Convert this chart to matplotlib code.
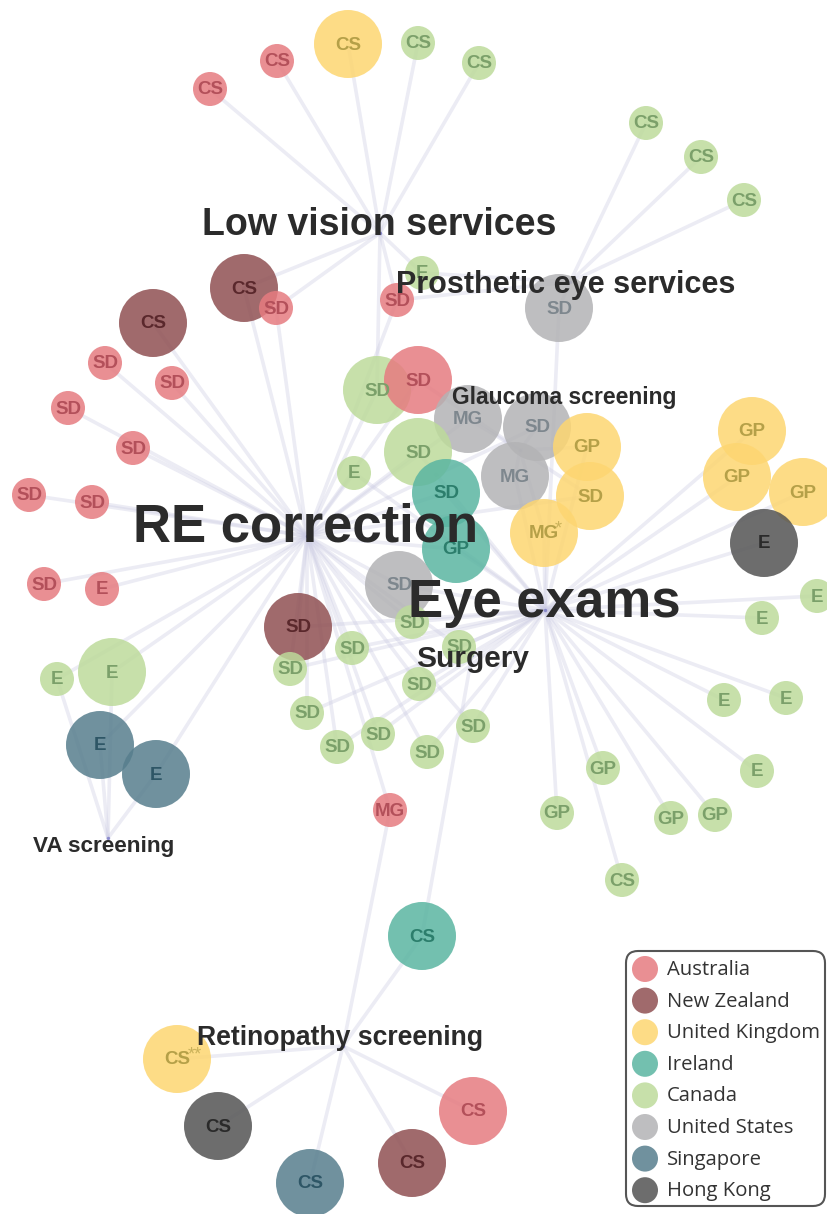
import matplotlib
matplotlib.use("Agg")
import matplotlib.pyplot as plt
from matplotlib.patches import Circle, FancyBboxPatch

# hubs (services) - layout coordinates of the network, in pixels
hub_names = ["LV", "PE", "GS", "RE", "EE", "SU", "VA", "RS"]
hub_titles = ["Low vision services", "Prosthetic eye services", "Glaucoma screening",
              "RE correction", "Eye exams", "Surgery", "VA screening", "Retinopathy screening"]
hub_x = [380, 570, 520, 307, 545, 472, 108, 343]
hub_y = [233, 282, 450, 536, 610, 655, 838, 1046]
title_x = [379, 566, 564, 306, 544, 473, 104, 340]
title_base = [235, 293, 404, 542, 617, 667, 852, 1045]
title_size = [27, 22, 16.5, 38, 38, 21.5, 16.2, 19.2]

countries = ["Australia", "New Zealand", "United Kingdom", "Ireland",
             "Canada", "United States", "Singapore", "Hong Kong"]
codes = ["AU", "NZ", "UK", "IE", "CA", "US", "SG", "HK"]

# nodes: position in the layout, label, country, weight (1 = one service, 2 = more) and links
node_x = [210, 277, 348, 418, 479, 646, 701, 744, 244, 276, 422, 397, 559, 153,
          105, 172, 68, 133, 29, 92, 44, 102,
          377, 418, 468, 537, 587, 418, 354, 446, 515, 590, 544, 456, 399,
          752, 737, 803, 764, 817, 762, 724, 786, 757, 603, 557, 671, 715, 622,
          298, 412, 352, 459, 290, 419, 307, 473, 378, 337, 427, 390,
          57, 112, 100, 156,
          422, 177, 218, 310, 412, 473]
node_y = [89, 61, 44, 43, 63, 123, 157, 200, 288, 308, 273, 300, 308, 323,
          363, 383, 408, 448, 495, 502, 584, 589,
          390, 380, 419, 427, 447, 452, 473, 493, 476, 496, 533, 549, 585,
          431, 477, 492, 543, 596, 618, 700, 698, 771, 768, 813, 818, 815, 880,
          627, 622, 648, 647, 669, 684, 713, 726, 734, 747, 752, 810,
          679, 672, 745, 774,
          936, 1059, 1126, 1183, 1163, 1111]
node_label = ["CS", "CS", "CS", "CS", "CS", "CS", "CS", "CS", "CS", "SD", "E", "SD", "SD", "CS",
              "SD", "SD", "SD", "SD", "SD", "SD", "SD", "E",
              "SD", "SD", "MG", "SD", "GP", "SD", "E", "SD", "MG", "SD", "MG*", "GP", "SD",
              "GP", "GP", "GP", "E", "E", "E", "E", "E", "E", "GP", "GP", "GP", "GP", "CS",
              "SD", "SD", "SD", "SD", "SD", "SD", "SD", "SD", "SD", "SD", "SD", "MG",
              "E", "E", "E", "E",
              "CS", "CS**", "CS", "CS", "CS", "CS"]
node_country = ["AU", "AU", "UK", "CA", "CA", "CA", "CA", "CA", "NZ", "AU", "CA", "AU", "US", "NZ",
                "AU", "AU", "AU", "AU", "AU", "AU", "AU", "AU",
                "CA", "AU", "US", "US", "UK", "CA", "CA", "IE", "US", "UK", "UK", "IE", "US",
                "UK", "UK", "UK", "HK", "CA", "CA", "CA", "CA", "CA", "CA", "CA", "CA", "CA", "CA",
                "NZ", "CA", "CA", "CA", "CA", "CA", "CA", "CA", "CA", "CA", "CA", "AU",
                "CA", "CA", "SG", "SG",
                "IE", "UK", "HK", "SG", "NZ", "AU"]
node_weight = [1, 1, 2, 1, 1, 1, 1, 1, 2, 1, 1, 1, 2, 2,
               1, 1, 1, 1, 1, 1, 1, 1,
               2, 2, 2, 2, 2, 2, 1, 2, 2, 2, 2, 2, 2,
               2, 2, 2, 2, 1, 1, 1, 1, 1, 1, 1, 1, 1, 1,
               2, 1, 1, 1, 1, 1, 1, 1, 1, 1, 1, 1,
               1, 2, 2, 2,
               2, 2, 2, 2, 2, 2]
node_links = ["LV", "LV", "LV", "LV", "LV", "PE", "PE", "PE", "LV RE", "LV RE", "PE LV", "LV RE PE",
              "PE EE", "RE",
              "RE", "RE", "RE", "RE", "RE", "RE", "RE", "RE",
              "RE LV", "RE GS", "GS RE", "GS RE", "GS EE", "RE EE", "RE EE", "RE EE", "GS EE",
              "GS RE", "GS EE", "RE EE", "RE EE",
              "EE", "EE", "EE", "EE", "EE", "EE", "EE", "EE", "EE", "EE", "EE", "EE", "EE", "EE",
              "RE EE", "RE EE", "RE EE", "RE EE", "RE EE", "RE EE", "RE EE", "RE EE", "RE EE",
              "RE EE", "RE EE", "RE RS",
              "VA RE", "VA RE", "VA RE", "VA RE",
              "RS SU", "RS", "RS", "RS", "RS", "RS"]

# styles
fill = {"AU": "#E67B80", "NZ": "#8F5052", "UK": "#FDD671", "IE": "#5AB5A1",
        "CA": "#BDDB9B", "US": "#B3B3B5", "SG": "#577E8D", "HK": "#545454"}
ink = {"AU": "#B3505A", "NZ": "#5A282C", "UK": "#B5A048", "IE": "#2C7E6C",
       "CA": "#7BA06A", "US": "#7E878E", "SG": "#2E5666", "HK": "#2A2A2A"}

fig = plt.figure(figsize=(8.27, 12.14), dpi=100)
ax = fig.add_axes([0, 0, 1, 1])
ax.set_xlim(0, 827)
ax.set_ylim(1214, 0)
ax.axis("off")

hub_pos = {n: (x, y) for n, x, y in zip(hub_names, hub_x, hub_y)}

# edges
for x, y, links in zip(node_x, node_y, node_links):
    for h in links.split():
        hx, hy = hub_pos[h]
        ax.plot([x, hx], [y, hy], color="#cdcde4", alpha=0.38, lw=2.6,
                solid_capstyle="round", zorder=1)
ax.scatter(hub_x, hub_y, s=6, color="#4646b4", alpha=0.5, zorder=2, linewidths=0)

# nodes
for x, y, lab, c, w in zip(node_x, node_y, node_label, node_country, node_weight):
    ax.add_patch(Circle((x, y), 17 * w, facecolor=fill[c], edgecolor="none",
                        alpha=0.85, zorder=3))
    base = lab.rstrip("*")
    stars = lab[len(base):]
    ax.text(x, y + 1, base, ha="center", va="center", fontsize=13.5,
            fontweight="bold", family="Liberation Sans", color=ink[c], zorder=4)
    if stars:
        ax.text(x + 11, y - 4, stars, ha="left", va="center", fontsize=13,
                family="Liberation Sans", color=ink[c], alpha=0.7, zorder=4)

# service titles
for t, x, y, s in zip(hub_titles, title_x, title_base, title_size):
    ax.text(x, y, t, ha="center", va="baseline", fontsize=s, fontweight="bold",
            family="Liberation Sans", color="#2b2b2b", zorder=5)

# legend
ax.add_patch(FancyBboxPatch((626, 951), 199, 255,
                            boxstyle="round,pad=0,rounding_size=12",
                            facecolor="white", edgecolor="#555555", lw=1.5, zorder=6))
for i, (name, code) in enumerate(zip(countries, codes)):
    ly = 969 + i * 31.6
    ax.add_patch(Circle((645, ly), 13, facecolor=fill[code], edgecolor="none",
                        alpha=0.85, zorder=7))
    ax.text(667, ly + 1, name, ha="left", va="center", fontsize=14.6,
            family="Open Sans", color="#333333", zorder=7)

fig.savefig("out.png", dpi=100)
